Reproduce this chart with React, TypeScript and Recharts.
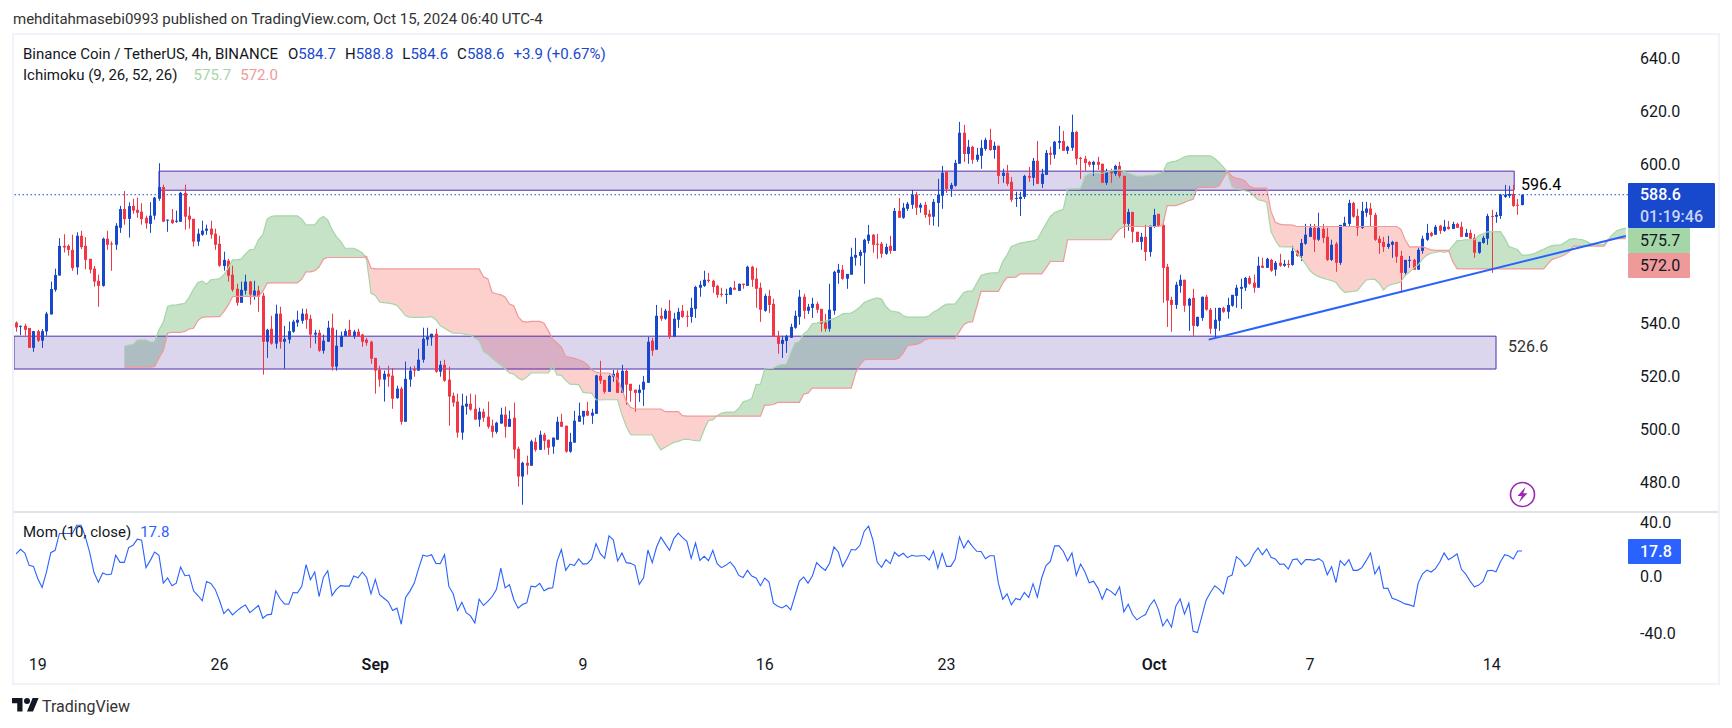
import React from "react";
import { ComposedChart, Bar, Area, Line, XAxis, YAxis, ReferenceArea, ReferenceLine } from "recharts";

// 4h candles, ten per line
const opens = [
  540.3,538.9,539.1,538.3,530.8,537.1,533.5,537.0,543.4,552.7,
  558.1,569.3,569.3,567.8,561.2,573.1,569.3,564.4,560.7,556.1,
  554.2,572.0,570.2,569.7,576.1,583.2,579.5,584.4,582.9,582.2,
  579.9,577.6,580.7,587.1,591.5,578.8,579.2,578.4,578.4,589.3,
  580.7,579.5,570.9,573.5,575.0,575.8,573.9,570.1,561.7,563.7,
  558.4,553.1,547.8,552.4,555.8,550.5,552.4,550.5,533.1,538.0,
  532.4,543.7,533.1,533.9,536.9,540.3,541.0,543.7,541.8,535.8,
  536.5,529.7,533.1,538.4,523.7,531.2,535.3,537.6,535.3,536.9,
  535.8,533.9,533.1,527.0,522.5,518.8,521.0,520.3,511.8,515.4,
  502.9,518.8,522.8,522.2,526.3,533.9,534.7,536.1,521.8,524.4,
  518.8,512.7,510.5,498.8,508.6,509.7,507.8,503.7,506.7,504.8,
  501.4,499.1,502.2,505.6,501.0,504.4,492.7,482.2,487.4,486.3,
  495.3,492.3,498.0,496.1,493.5,496.1,502.9,501.4,491.6,495.0,
  502.9,504.8,507.0,505.2,505.9,520.2,518.7,514.2,519.9,521.4,
  513.8,522.1,517.2,515.0,513.8,515.0,517.6,533.5,530.1,542.9,
  541.8,544.8,535.0,541.4,544.8,542.9,542.5,545.5,553.5,554.2,
  556.5,556.1,554.2,551.2,550.8,550.8,553.5,552.3,555.0,554.2,
  561.4,556.9,553.5,544.8,550.4,547.4,535.3,532.3,533.4,534.6,
  538.4,542.5,550.1,544.8,545.9,547.4,545.5,540.3,538.0,544.8,
  559.1,560.3,556.9,558.4,564.8,565.5,566.7,571.2,573.5,570.1,
  570.1,566.3,569.3,567.4,582.5,579.9,583.3,584.8,588.6,583.7,
  584.8,581.4,580.3,585.5,588.2,597.2,590.8,592.0,600.3,612.0,
  604.0,606.7,601.8,603.3,605.9,609.3,605.5,607.1,595.7,596.9,
  593.5,587.0,587.0,587.8,595.7,595.0,601.4,592.7,596.1,604.4,
  603.7,608.2,608.9,605.2,606.3,612.3,602.5,602.2,601.0,599.9,
  601.0,600.3,593.1,597.2,596.5,599.5,595.7,577.6,582.1,574.6,
  570.8,572.7,567.0,576.5,581.4,577.2,561.4,548.9,547.0,554.2,
  556.5,546.7,549.7,539.1,542.1,550.1,545.2,538.0,541.0,545.9,
  544.4,546.7,550.4,553.1,553.5,557.2,555.4,553.5,561.8,561.0,
  564.0,560.3,562.9,561.8,562.5,562.1,567.4,565.5,570.1,572.7,
  576.1,571.6,575.7,572.7,564.0,570.1,562.9,576.6,577.6,585.5,
  580.6,576.1,581.8,583.4,581.0,572.0,570.8,568.9,569.7,570.8,
  565.5,559.1,563.6,564.0,560.3,567.4,571.6,574.2,573.5,576.9,
  575.0,576.5,575.7,577.6,576.5,572.7,574.2,572.3,566.7,570.4,
  572.0,580.6,580.3,580.6,587.8,588.2,588.9,584.8,584.7,
];
const highs = [
  540.8,539.2,539.9,538.3,537.1,537.6,537.9,544.4,555.8,560.7,
  572.2,573.7,569.8,573.5,574.4,575.0,572.6,564.4,561.7,558.4,
  572.4,575.0,571.0,577.9,584.4,590.0,585.7,587.1,587.5,585.4,
  580.7,585.8,587.8,600.5,592.4,579.2,583.2,582.6,589.7,592.4,
  584.1,579.5,575.8,578.8,577.3,578.8,575.8,573.1,567.1,564.4,
  561.8,555.0,555.8,558.4,556.1,556.1,554.2,551.6,538.0,542.9,
  547.1,546.3,539.1,540.7,541.4,544.8,545.6,545.6,543.3,537.6,
  537.6,535.8,541.0,543.7,537.6,536.9,538.0,541.4,537.6,538.0,
  536.1,534.6,533.5,527.0,524.0,522.2,524.0,523.2,516.5,516.1,
  525.6,523.7,524.0,530.5,538.4,538.4,536.1,538.0,525.9,526.3,
  523.7,513.9,513.5,513.5,512.7,513.5,513.1,508.2,507.8,510.5,
  503.7,502.9,508.2,508.6,507.1,510.1,493.5,487.8,490.1,496.1,
  496.9,499.5,498.7,496.1,496.9,504.8,505.9,501.4,498.7,507.0,
  510.1,507.0,510.4,507.8,520.6,525.9,518.7,520.6,522.5,522.5,
  524.4,522.5,517.2,515.0,516.9,520.2,534.9,534.6,547.0,545.9,
  545.5,548.9,544.0,545.9,547.0,544.8,549.7,554.2,556.1,559.9,
  559.1,556.5,554.6,553.5,553.1,553.8,556.1,555.0,555.0,561.8,
  561.8,561.0,555.4,551.2,552.7,549.3,537.2,535.3,535.7,539.9,
  544.8,552.7,551.2,547.4,549.7,548.2,545.5,543.6,555.0,559.9,
  562.5,562.1,558.7,568.6,572.3,567.8,572.0,577.2,573.8,573.8,
  570.8,570.1,573.1,583.6,587.4,585.5,585.9,590.4,589.7,585.5,
  585.9,582.9,587.0,594.6,599.5,597.6,593.1,601.8,616.1,615.0,
  609.3,607.1,606.3,609.3,610.1,613.5,608.6,607.1,598.4,599.9,
  595.3,589.7,589.7,596.1,599.1,602.5,608.9,598.4,605.5,606.7,
  608.9,614.6,612.7,607.1,618.8,612.7,602.9,603.3,601.4,601.4,
  602.9,600.3,598.4,598.4,599.9,601.0,595.7,583.3,582.1,574.6,
  574.2,577.2,576.9,583.3,581.4,579.1,562.5,550.1,555.7,558.4,
  556.5,549.7,553.1,542.5,550.1,550.8,545.9,545.9,545.9,546.3,
  549.7,550.8,554.6,556.9,557.6,558.0,558.4,565.2,564.8,564.8,
  564.4,563.6,566.3,564.0,564.0,569.3,567.8,571.9,577.6,577.6,
  577.6,581.8,577.6,576.1,571.6,570.8,577.2,580.3,586.7,585.9,
  583.3,585.9,585.9,585.5,581.8,573.1,572.7,573.1,571.2,570.8,
  567.4,564.0,565.5,564.4,568.6,573.1,577.6,574.6,577.2,577.2,
  579.1,578.7,578.4,578.0,578.4,575.7,575.4,573.8,570.8,573.1,
  581.4,582.9,582.1,588.9,592.3,592.0,592.3,587.0,588.8,
];
const lows = [
  536.9,535.6,535.4,530.8,529.3,533.0,530.8,535.4,543.4,552.0,
  558.1,566.8,565.6,559.9,558.4,568.1,560.5,558.9,553.9,546.3,
  553.9,567.8,559.9,567.8,574.2,577.3,572.4,581.4,579.9,577.3,
  575.8,574.2,579.2,586.3,578.4,574.6,577.6,578.0,578.4,575.4,
  575.8,569.0,569.3,573.1,573.5,572.0,567.8,561.4,559.9,555.8,
  552.0,546.7,547.8,550.9,547.1,549.0,544.4,520.7,527.0,532.0,
  530.5,530.5,522.9,532.4,536.5,538.8,539.9,538.0,530.8,532.4,
  529.3,528.6,533.1,522.2,522.2,531.2,535.1,535.3,534.2,535.1,
  531.2,531.6,524.8,513.5,516.1,510.5,516.1,507.8,511.6,501.8,
  502.9,516.1,519.9,522.2,525.2,531.6,531.6,521.4,519.9,518.0,
  501.4,508.6,496.9,496.1,505.6,507.1,503.7,501.0,502.9,500.3,
  496.9,498.4,502.2,496.9,501.0,489.0,478.4,471.6,482.9,486.3,
  491.6,492.3,492.3,490.4,490.8,496.1,501.0,491.2,491.2,495.0,
  502.9,501.8,505.2,502.1,505.9,517.2,513.5,514.2,518.0,513.8,
  513.8,509.3,510.4,506.7,510.4,508.9,517.6,527.8,530.1,541.0,
  541.4,534.2,535.0,538.4,542.1,538.7,540.3,542.1,550.1,553.8,
  555.4,551.6,549.7,550.1,547.4,550.8,552.7,552.3,553.1,554.2,
  553.8,545.9,540.6,544.4,544.0,535.0,528.6,527.0,528.9,534.6,
  538.0,539.5,541.8,543.6,542.1,544.0,536.9,536.9,536.9,543.3,
  555.0,556.5,553.1,558.4,561.8,561.8,555.0,570.1,566.7,564.4,
  564.8,565.9,566.3,567.4,579.9,579.5,582.5,583.3,581.0,581.8,
  579.9,577.2,576.9,576.5,583.3,589.3,587.8,591.6,600.3,601.0,
  600.3,600.3,601.0,598.4,605.2,605.2,602.2,592.7,593.1,591.9,
  585.9,584.0,580.6,587.0,593.5,592.0,592.7,591.2,596.1,599.9,
  602.2,605.9,605.2,604.0,605.2,599.9,594.6,597.6,599.1,595.7,
  598.0,593.1,592.3,593.1,595.7,595.0,572.3,575.0,570.4,570.8,
  567.8,563.6,565.2,576.1,576.5,547.8,538.7,536.9,545.5,551.6,
  544.4,537.2,535.3,538.7,541.0,544.8,536.1,534.6,537.2,544.0,
  541.8,546.3,545.9,545.5,552.3,554.6,551.6,553.5,561.0,561.0,
  559.5,558.0,561.4,561.4,561.0,561.8,565.2,563.6,569.7,572.7,
  567.0,571.2,570.4,563.6,563.6,559.5,562.1,576.5,576.5,579.9,
  573.1,575.7,580.3,576.5,571.2,566.3,567.0,568.2,564.8,562.9,
  551.6,558.0,561.0,560.3,560.3,566.3,571.2,572.7,573.5,573.8,
  574.6,575.4,575.7,576.1,572.7,572.7,572.0,564.8,566.3,570.1,
  569.7,559.1,578.0,579.5,587.4,587.4,584.0,581.0,584.6,
];
const closes = [
  538.5,539.1,537.6,530.8,537.1,533.5,537.1,543.7,553.0,558.3,
  569.3,568.7,567.8,560.9,573.1,568.8,564.0,560.3,555.8,554.2,
  572.0,569.7,569.8,576.9,583.2,579.4,584.3,582.6,581.8,579.4,
  577.8,580.7,587.5,591.5,578.4,579.2,577.9,578.8,589.3,580.3,
  579.2,570.9,573.9,575.0,575.8,573.5,569.7,561.8,564.0,558.0,
  552.7,547.8,552.7,555.8,550.9,552.4,550.1,533.1,537.6,532.4,
  543.7,533.1,534.2,537.1,540.7,541.4,543.7,541.4,535.8,536.5,
  529.7,533.5,538.4,523.7,531.6,535.3,537.1,535.3,536.9,535.1,
  533.1,532.7,526.7,522.2,518.8,521.0,519.9,511.6,515.4,502.9,
  519.1,522.2,522.2,526.3,534.2,535.0,536.1,521.8,524.4,518.4,
  512.4,510.1,498.8,509.0,509.7,507.5,503.7,506.7,504.4,501.0,
  499.1,502.5,505.6,501.0,504.0,492.4,482.2,487.4,486.3,495.5,
  492.3,498.0,495.7,493.1,496.9,502.9,501.0,491.6,495.3,503.3,
  505.2,507.0,505.2,506.3,520.4,518.4,514.2,520.2,521.0,513.8,
  522.1,516.9,514.6,513.8,515.0,518.0,533.1,529.7,542.9,541.8,
  544.8,535.0,541.8,544.4,542.5,542.6,545.9,553.8,554.6,556.5,
  556.0,553.8,550.8,550.8,551.2,553.5,552.7,555.0,554.5,561.4,
  556.5,553.1,545.2,550.4,547.0,535.0,532.3,533.8,535.3,538.7,
  542.9,550.1,544.8,546.3,547.4,545.2,539.9,538.0,545.2,559.5,
  560.3,556.9,558.7,565.2,565.9,567.0,571.6,573.5,569.7,569.7,
  566.3,568.9,567.4,582.5,579.9,583.7,585.2,588.6,583.7,584.8,
  581.0,580.3,585.9,588.6,596.9,590.8,592.3,600.6,612.0,604.0,
  606.7,601.8,603.7,606.3,609.3,605.5,607.1,595.7,596.9,592.7,
  586.7,587.4,587.8,595.7,595.0,601.4,592.7,596.5,604.4,603.7,
  608.6,608.9,605.2,606.7,612.3,602.2,602.2,600.6,599.9,601.0,
  599.9,593.1,597.2,596.7,599.5,595.7,577.6,582.1,574.6,570.8,
  572.7,567.0,576.9,581.0,576.9,561.0,548.6,547.0,554.6,556.5,
  546.7,549.3,539.1,542.5,550.1,545.2,538.0,541.4,545.9,544.4,
  547.0,550.8,553.5,553.8,557.2,555.0,553.5,561.8,561.0,564.4,
  559.9,562.9,561.8,562.5,562.1,567.4,565.5,570.4,573.5,576.1,
  571.6,576.1,572.3,564.0,569.7,562.9,577.2,578.0,585.5,580.3,
  576.1,582.5,583.4,581.0,571.6,570.4,568.9,570.1,570.8,565.2,
  559.1,564.0,564.0,560.3,567.8,572.0,574.2,573.1,576.5,575.0,
  576.5,575.7,577.6,576.1,572.7,574.2,572.0,566.7,570.8,572.3,
  580.6,580.3,581.0,588.6,588.6,588.9,584.4,584.4,588.6,
];

// momentum (10, close), one value per candle
const momentum = [
  15.7,19.0,16.4,7.7,7.0,-1.7,-7.8,3.0,16.6,18.3,
  30.1,30.1,30.1,30.1,35.9,35.9,27.7,16.6,2.5,-4.1,
  2.3,1.1,1.6,14.8,9.8,9.8,20.2,21.8,26.1,25.4,
  6.1,11.2,17.1,14.8,-4.8,-1.2,-6.6,-4.8,6.5,0.4,
  0.9,-10.2,-13.5,-17.2,-3.6,-5.0,-9.2,-17.0,-26.2,-23.1,
  -27.1,-24.3,-21.9,-20.1,-25.5,-23.1,-20.5,-29.5,-27.1,-26.6,
  -10.2,-15.8,-19.4,-19.6,-11.4,-11.6,-7.1,8.2,-2.4,3.0,
  -14.2,-0.8,3.9,-13.5,-9.2,-6.6,-6.9,-6.9,0.2,-1.0,
  3.0,-0.8,-12.3,-2.2,-13.0,-15.4,-17.9,-24.1,-22.4,-33.7,
  -14.9,-10.4,-4.8,5.4,14.8,14.1,15.2,9.1,8.9,15.2,
  -7.1,-12.3,-24.1,-18.2,-25.5,-27.8,-32.8,-16.1,-20.5,-17.7,
  -14.2,-9.2,5.8,-8.1,-5.9,-16.3,-22.4,-19.8,-18.6,-6.9,
  -7.4,-5.0,-10.2,-8.5,-8.1,10.5,18.8,4.2,8.6,7.5,
  12.2,8.6,8.9,12.2,23.0,15.9,12.6,28.4,25.6,10.8,
  16.4,9.6,9.1,7.7,-5.7,-1.0,18.5,9.6,20.6,27.5,
  22.8,18.3,26.5,30.3,27.2,24.6,12.6,23.5,11.2,14.1,
  11.0,18.3,8.9,6.1,7.7,10.1,6.5,0.6,-0.8,4.2,
  0.2,-1.2,-6.6,-1.2,-4.1,-18.9,-21.0,-22.2,-20.3,-23.6,
  -13.5,-3.4,-0.5,-4.8,0.2,9.6,6.5,4.2,9.4,20.6,
  17.1,6.8,12.4,18.8,18.5,21.8,31.7,35.2,25.4,9.8,
  6.3,11.7,8.9,16.9,14.1,16.2,13.1,14.8,14.1,14.5,
  14.5,11.5,17.8,5.8,16.2,7.0,7.0,11.9,27.7,19.9,
  25.1,21.1,17.6,17.4,12.4,14.5,14.5,-5.0,-16.1,-12.3,
  -20.1,-15.6,-16.5,-11.4,-14.9,-5.2,-14.6,-1.2,7.5,10.5,
  21.4,21.4,17.6,10.8,16.4,0.6,8.6,3.0,-4.5,-3.4,
  -8.3,-16.1,-8.8,-10.6,-13.2,-7.4,-25.0,-19.6,-26.9,-30.6,
  -28.5,-26.9,-20.5,-16.5,-23.6,-34.9,-30.2,-35.8,-21.0,-15.8,
  -26.6,-18.9,-38.6,-39.6,-28.3,-16.8,-11.4,-6.6,-9.0,-12.3,
  -0.5,0.9,13.8,11.2,7.0,9.4,15.9,19.9,15.2,19.2,
  13.4,12.2,8.4,8.6,5.1,11.7,12.2,8.2,11.7,11.7,
  11.2,12.4,10.3,1.1,6.8,-4.5,11.0,7.7,11.7,4.2,
  4.2,6.1,11.0,16.4,1.6,6.8,-8.3,-8.5,-15.4,-16.5,
  -17.9,-19.4,-20.1,-21.2,-4.8,1.6,4.4,3.0,5.4,10.1,
  16.4,11.7,13.6,15.7,4.9,1.6,-3.4,-7.4,-6.2,-3.6,
  3.9,4.2,3.2,10.1,15.2,14.3,12.2,17.8,17.8,
];

// ichimoku leading spans, the first value belongs to bar 25
const cloudStart = 25;
const spanA = [
  531.3,531.8,532.0,533.7,533.8,533.8,533.0,533.1,537.6,540.4,
  546.4,546.9,547.0,547.3,547.6,550.0,553.0,555.5,556.0,554.8,
  556.5,556.7,556.9,558.4,560.9,564.0,564.0,564.3,566.3,567.8,
  568.0,571.6,573.5,579.4,580.4,580.6,580.6,580.6,580.6,580.6,
  580.6,579.4,577.2,577.2,577.2,579.4,580.4,579.1,575.4,572.8,
  571.0,568.4,568.4,568.4,567.6,566.6,564.0,551.4,550.6,548.1,
  547.9,547.7,547.4,546.8,544.9,542.9,542.4,542.3,542.3,542.3,
  542.4,542.6,541.4,539.2,538.2,537.2,536.3,536.3,536.2,535.8,
  535.6,534.5,533.6,529.4,528.4,526.9,525.5,524.3,522.9,521.3,
  520.9,519.4,518.6,519.8,521.3,521.3,521.3,521.3,521.3,524.0,
  520.6,520.4,518.5,517.1,517.0,516.9,514.0,513.8,513.7,511.2,
  511.1,511.2,511.2,511.2,511.2,505.5,501.1,498.0,497.9,497.9,
  497.9,497.9,497.9,494.8,492.3,493.3,494.2,495.1,495.5,496.1,
  496.3,496.0,495.8,495.7,499.9,503.4,503.6,505.2,506.2,506.4,
  506.5,506.5,508.0,510.4,510.9,511.7,516.9,517.1,522.8,523.0,
  523.1,524.0,524.5,524.6,528.8,532.6,533.2,536.1,537.4,539.9,
  540.1,540.6,541.0,541.4,541.8,542.6,543.6,543.8,543.9,544.9,
  546.2,547.9,548.6,549.2,549.7,549.2,546.4,544.8,544.5,544.2,
  542.9,542.4,542.4,542.4,542.4,542.4,542.9,544.3,545.2,546.4,
  547.3,547.3,547.4,549.6,551.7,552.2,552.3,555.2,558.2,558.6,
  559.0,559.1,559.2,563.4,565.9,569.1,569.7,570.3,570.6,570.9,
  571.2,571.8,574.7,577.6,580.4,581.9,582.5,583.1,590.7,590.8,
  590.8,590.9,595.5,596.5,596.7,596.7,596.7,597.2,597.7,597.9,
  598.0,597.4,596.7,596.1,595.5,595.6,595.7,595.9,596.0,596.5,
  597.1,600.5,601.0,601.3,602.0,602.9,603.3,603.3,603.3,603.3,
  603.3,603.3,602.3,600.8,599.0,596.7,591.7,590.9,590.4,590.1,
  589.8,588.2,586.7,586.4,585.7,574.7,571.3,569.0,568.9,568.9,
  568.8,566.5,564.6,562.5,560.0,558.5,557.7,557.1,556.6,556.2,
  555.5,553.3,551.7,551.9,552.1,552.4,554.6,556.4,556.6,556.7,
  555.2,552.6,554.2,554.8,555.1,555.7,558.1,559.4,560.9,562.1,
  564.3,565.8,566.5,566.8,567.2,566.8,567.3,569.3,571.3,571.4,
  571.6,571.6,571.6,573.2,573.8,574.6,574.7,574.7,574.7,572.2,
  569.0,568.5,567.8,565.8,565.8,566.0,566.5,567.3,568.0,568.8,
  569.4,569.6,569.7,570.7,571.8,572.0,571.8,571.6,570.9,570.1,
  569.8,569.7,569.9,571.8,573.7,575.1,575.6,576.0,
];
const spanB = [
  523.5,523.5,523.5,523.5,523.5,523.5,523.5,523.8,526.9,529.8,
  536.3,536.6,536.6,536.6,537.0,537.9,538.2,541.1,542.3,542.5,
  542.5,542.6,542.6,544.5,546.9,550.1,550.2,550.2,550.2,550.2,
  550.2,550.2,552.1,555.2,555.3,555.3,555.3,555.3,555.3,555.3,
  555.3,556.7,559.5,559.5,559.9,561.3,564.3,564.9,564.9,564.9,
  564.9,564.9,564.9,564.9,564.9,564.9,565.3,560.9,560.6,560.6,
  560.6,560.6,560.6,560.6,560.6,560.6,560.6,560.6,560.6,560.6,
  560.6,560.6,560.6,560.6,560.6,560.6,560.6,560.6,560.6,560.6,
  560.6,560.6,560.6,557.5,556.9,551.7,551.2,550.8,550.0,547.3,
  546.7,542.6,540.8,540.5,540.8,540.8,540.8,540.1,537.2,534.1,
  532.6,531.1,527.5,527.2,526.8,526.3,525.6,524.4,522.5,521.6,
  521.3,521.3,521.3,520.4,519.0,515.0,510.6,508.3,507.7,507.7,
  507.7,507.7,507.7,507.7,507.7,506.7,506.7,506.7,506.7,505.2,
  505.0,505.0,505.0,505.0,505.0,505.0,505.0,505.0,505.0,505.0,
  505.0,505.0,505.0,505.0,505.0,505.0,505.0,505.0,509.2,509.2,
  509.4,510.2,510.2,510.2,510.2,510.2,510.2,513.3,513.7,515.6,
  515.6,515.6,515.6,515.6,515.6,515.6,515.6,515.6,515.6,521.3,
  524.4,526.3,526.4,526.4,526.4,526.4,526.4,526.4,526.4,526.9,
  528.8,531.6,531.9,532.1,532.6,533.8,534.3,534.3,534.3,534.3,
  534.3,534.3,534.3,537.0,539.5,540.5,540.6,546.4,552.1,552.1,
  552.1,552.1,552.1,555.2,557.4,557.4,557.5,558.7,558.7,558.7,
  558.7,558.7,558.7,560.9,563.4,563.4,563.4,563.4,571.6,571.6,
  571.6,571.6,571.6,571.6,571.6,571.6,571.6,571.6,571.6,573.8,
  575.6,576.6,576.6,576.6,576.6,576.6,576.6,576.6,576.6,576.6,
  577.1,584.5,584.5,584.5,585.0,585.7,586.4,586.9,591.3,591.4,
  591.4,591.4,591.4,591.9,594.9,597.4,595.5,594.9,594.5,593.8,
  591.9,591.1,591.1,591.1,591.1,582.3,578.2,577.5,577.2,577.2,
  577.1,576.6,576.6,576.6,576.6,576.6,576.6,576.6,576.6,576.6,
  576.6,576.6,576.6,576.6,576.6,576.6,576.6,576.6,576.6,576.6,
  576.6,576.6,576.6,576.6,576.6,575.6,571.6,568.9,568.9,568.9,
  568.9,568.4,567.8,567.6,567.6,567.6,567.6,563.4,560.6,560.6,
  560.6,560.6,560.6,560.6,560.6,560.6,560.6,560.6,560.6,560.6,
  560.6,560.6,560.6,560.6,560.6,560.6,560.6,560.6,560.6,562.5,
  564.2,564.7,565.3,566.0,567.2,569.3,569.2,569.2,569.2,569.2,
  569.2,569.2,569.2,571.6,572.0,572.0,572.0,572.0,
];

// 560 and 580 sit behind the price tags in the picture, so they are not drawn
const priceTicks = [480, 500, 520, 540, 600, 620, 640];
const momTicks = [-40, 0, 40];
const timeTickBars = [5, 47, 83, 131, 173, 215, 263, 299, 341];
const timeTickNames = ["19", "26", "Sep", "9", "16", "23", "Oct", "7", "14"];

const lastPrice = 588.6;
const upperZone = { from: 33, to: 346.2, top: 597.5, bottom: 590.3 };
const lowerZone = { from: -0.5, to: 342, top: 535.2, bottom: 522.8 };
const trendFrom = { x: 275.6, y: 533.9 };
const trendTo = { x: 372, y: 573.0 };

const BAR_COUNT = 373;
const XDOMAIN: [number, number] = [-0.5, BAR_COUNT - 0.5];
const FONT = "Roboto, sans-serif";
const BLUE = "#1848cc";
const RED = "#f23645";
const MOM_BLUE = "#2962ff";

const a = (i: number) => spanA[i - cloudStart];
const b = (i: number) => spanB[i - cloudStart];
const has = (i: number) => i >= cloudStart && i < BAR_COUNT;

const rows = Array.from({ length: BAR_COUNT }, (_, i) => {
  const inCloud = has(i);
  const up = inCloud && a(i) >= b(i);
  const down = inCloud && a(i) < b(i);
  // keep the two colours touching where the spans cross
  const nextUp = has(i + 1) && a(i + 1) >= b(i + 1);
  const prevUp = has(i - 1) && a(i - 1) >= b(i - 1);
  const nextDown = has(i + 1) && a(i + 1) < b(i + 1);
  const prevDown = has(i - 1) && a(i - 1) < b(i - 1);
  return {
    i,
    open: opens[i],
    close: closes[i],
    high: highs[i],
    low: lows[i],
    range: i < opens.length ? [lows[i], highs[i]] : null,
    mom: i < momentum.length ? momentum[i] : null,
    spanA: inCloud ? a(i) : null,
    spanB: inCloud ? b(i) : null,
    green: up ? [b(i), a(i)] : down && (nextUp || prevUp) ? [b(i), b(i)] : null,
    red: down ? [a(i), b(i)] : up && (nextDown || prevDown) ? [a(i), a(i)] : null,
  };
});

function Candle(props: any) {
  const { x, y, width, height, payload } = props;
  if (!payload || payload.range == null) return null;
  const { open, close, high, low } = payload;
  const toY = (p: number) => y + ((high - p) / (high - low)) * height;
  const color = close >= open ? BLUE : RED;
  const cx = Math.floor(x + width / 2);
  const top = toY(Math.max(open, close));
  const bottom = toY(Math.min(open, close));
  return (
    <g>
      <rect x={cx} y={y} width={1} height={height} fill={color} />
      <rect x={cx - 1} y={top} width={3} height={Math.max(bottom - top, 1)} fill={color} />
    </g>
  );
}

function TimeTick(props: any) {
  const { x, y, payload } = props;
  const label = timeTickNames[timeTickBars.indexOf(payload.value)];
  const isMonth = label === "Sep" || label === "Oct";
  return (
    <text x={x} y={y} textAnchor="middle" dominantBaseline="central" fontFamily={FONT} fontSize={16} fontWeight={isMonth ? 600 : 400} fill="#131722">
      {label}
    </text>
  );
}

function Txt({ left, top, color = "#131722", size = 15, weight = 400, children }: any) {
  return (
    <div style={{ position: "absolute", left, top, color, fontSize: size, fontWeight: weight, lineHeight: "20px", whiteSpace: "pre", fontFamily: FONT }}>
      {children}
    </div>
  );
}

function Tag({ left, top, width, height, bg, children }: any) {
  return (
    <div style={{ position: "absolute", left, top, width, height, background: bg, borderRadius: 1, fontFamily: FONT }}>{children}</div>
  );
}

const axisTick = { fontSize: 16, fill: "#131722", fontFamily: FONT };
const ohlc = (k: string, v: string) => (
  <span style={{ marginRight: 9 }}>
    {k}
    <span style={{ color: BLUE }}>{v}</span>
  </span>
);

export default function App() {
  return (
    <div style={{ position: "absolute", left: 0, top: 0, width: 1732, height: 728, background: "#fff", overflow: "hidden" }}>
      <div style={{ position: "absolute", left: 12, top: 33, width: 1704, height: 648, border: "2px solid #f0f3fa" }} />
      <div style={{ position: "absolute", left: 14, top: 511, width: 1704, height: 1.5, background: "#e0e3eb" }} />

      <div style={{ position: "absolute", left: 14, top: 35 }}>
        <ComposedChart width={1704} height={476} data={rows} margin={{ top: 0, right: 0, bottom: 0, left: 0 }}>
          <XAxis dataKey="i" type="number" domain={XDOMAIN} allowDataOverflow hide />
          <YAxis orientation="right" width={90} domain={[469.2, 648.9]} ticks={priceTicks} allowDataOverflow tickLine={false} axisLine={false} tickSize={0} tickMargin={12} tick={axisTick} tickFormatter={(v: number) => v.toFixed(1)} />
          <Area dataKey="green" type="linear" stroke="none" fill="rgba(67,160,71,0.3)" fillOpacity={1} isAnimationActive={false} dot={false} activeDot={false} />
          <Area dataKey="red" type="linear" stroke="none" fill="rgba(244,67,54,0.25)" fillOpacity={1} isAnimationActive={false} dot={false} activeDot={false} />
          <Line dataKey="spanA" type="linear" stroke="#a5d6a7" strokeWidth={1.2} dot={false} activeDot={false} isAnimationActive={false} />
          <Line dataKey="spanB" type="linear" stroke="#ef9a9a" strokeWidth={1.2} dot={false} activeDot={false} isAnimationActive={false} />
          <ReferenceArea x1={upperZone.from} x2={upperZone.to} y1={upperZone.bottom} y2={upperZone.top} fill="rgba(81,45,168,0.2)" fillOpacity={1} stroke="#512da8" strokeWidth={1} ifOverflow="hidden" />
          <ReferenceArea x1={lowerZone.from} x2={lowerZone.to} y1={lowerZone.bottom} y2={lowerZone.top} fill="rgba(81,45,168,0.2)" fillOpacity={1} stroke="#512da8" strokeWidth={1} ifOverflow="hidden" />
          <ReferenceLine y={lastPrice} stroke={BLUE} strokeWidth={1} strokeDasharray="1.5 2.5" />
          <Bar dataKey="range" barSize={3} shape={<Candle />} isAnimationActive={false} />
          <ReferenceLine segment={[trendFrom, trendTo]} stroke={MOM_BLUE} strokeWidth={2} ifOverflow="visible" />
        </ComposedChart>
      </div>

      <div style={{ position: "absolute", left: 14, top: 513 }}>
        <ComposedChart width={1704} height={170} data={rows} margin={{ top: 0, right: 0, bottom: 0, left: 0 }}>
          <XAxis dataKey="i" type="number" domain={XDOMAIN} allowDataOverflow height={34} ticks={timeTickBars} interval={0} tickLine={false} axisLine={false} tickSize={0} tickMargin={15} tick={<TimeTick />} />
          <YAxis orientation="right" width={90} domain={[-51.1, 44.5]} ticks={momTicks} allowDataOverflow tickLine={false} axisLine={false} tickSize={0} tickMargin={12} tick={axisTick} tickFormatter={(v: number) => v.toFixed(1)} />
          <Line dataKey="mom" type="linear" stroke={MOM_BLUE} strokeWidth={1.1} dot={false} activeDot={false} isAnimationActive={false} />
        </ComposedChart>
      </div>

      <Txt left={13} top={9}>
        <span style={{ color: "#333" }}>mehditahmasebi0993 published on TradingView.com, Oct 15, 2024 06:40 UTC-4</span>
      </Txt>
      <Txt left={23} top={44}>
        <span style={{ marginRight: 10 }}>Binance Coin / TetherUS, 4h, BINANCE</span>
        {ohlc("O", "584.7")}
        {ohlc("H", "588.8")}
        {ohlc("L", "584.6")}
        {ohlc("C", "588.6")}
        <span style={{ color: BLUE }}>+3.9 (+0.67%)</span>
      </Txt>
      <Txt left={23} top={65}>
        <span style={{ marginRight: 16 }}>Ichimoku (9, 26, 52, 26)</span>
        <span style={{ color: "#a5d6a7", marginRight: 9 }}>575.7</span>
        <span style={{ color: "#ef9a9a" }}>572.0</span>
      </Txt>
      <Txt left={23} top={522}>
        <span style={{ marginRight: 9 }}>Mom (10, close)</span>
        <span style={{ color: MOM_BLUE }}>17.8</span>
      </Txt>

      <Txt left={1521} top={175} size={16} color="#000">596.4</Txt>
      <Txt left={1508} top={337} size={16} color="#333">526.6</Txt>

      <Tag left={1628} top={183} width={87} height={45} bg={BLUE}>
        <div style={{ color: "#fff", fontSize: 16, fontWeight: 500, paddingLeft: 12, lineHeight: "22px", paddingTop: 1 }}>588.6</div>
        <div style={{ color: "#c9d5f5", fontSize: 16, fontWeight: 500, paddingLeft: 12, lineHeight: "21px" }}>01:19:46</div>
      </Tag>
      <Tag left={1628} top={228} width={62} height={25} bg="#a5d6a7">
        <div style={{ color: "#131722", fontSize: 16, paddingLeft: 12, lineHeight: "25px" }}>575.7</div>
      </Tag>
      <Tag left={1628} top={253} width={62} height={25} bg="#ef9a9a">
        <div style={{ color: "#131722", fontSize: 16, paddingLeft: 12, lineHeight: "25px" }}>572.0</div>
      </Tag>
      <Tag left={1628} top={539} width={53} height={25} bg={MOM_BLUE}>
        <div style={{ color: "#fff", fontSize: 16, fontWeight: 500, paddingLeft: 12, lineHeight: "25px" }}>17.8</div>
      </Tag>

      <svg style={{ position: "absolute", left: 1509, top: 481 }} width={27} height={27} viewBox="0 0 27 27">
        <circle cx={13.5} cy={13.5} r={12} fill="#fff" stroke="#9c27b0" strokeWidth={1.6} />
        <path d="M16.5 6 L8.5 15 L12.8 15 L10 21.5 L18.5 12.2 L14.2 12.2 Z" fill="#9c27b0" />
      </svg>

      <svg style={{ position: "absolute", left: 12, top: 695 }} width={27} height={21} viewBox="0 0 36 28">
        <path d="M14 22H7V11H0V4h14v18zM28 22h-8l7.5-18h8L28 22z" fill="#131722" />
        <circle cx={20} cy={8} r={4} fill="#131722" />
      </svg>
      <Txt left={42} top={697} size={16} color="#333">TradingView</Txt>
    </div>
  );
}
